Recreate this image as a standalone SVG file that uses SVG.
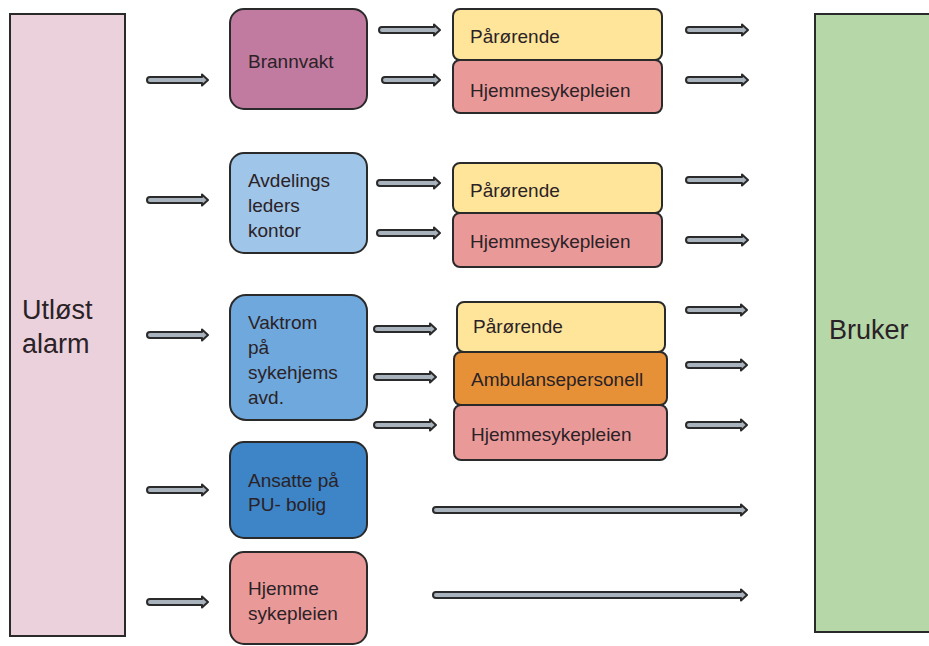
<svg xmlns="http://www.w3.org/2000/svg" width="929" height="646" viewBox="0 0 929 646">
<style>
.box{stroke:#2a2a2a;stroke-width:2}
.t{font-family:"Liberation Sans",Arial,sans-serif;font-size:19px;fill:#2a2226}
.big{font-family:"Liberation Sans",Arial,sans-serif;font-size:27px;fill:#2a2226}
.arr{fill:#a9b3bd;stroke:#2a2a2a;stroke-width:2;stroke-linejoin:round}
</style>
<rect width="929" height="646" fill="#ffffff"/>
<g id="utlost">
<rect class="box" x="10" y="14" width="115" height="622" fill="#ead1dc"/>
<text class="big" x="22" y="319">Utløst</text>
<text class="big" x="22" y="353">alarm</text>
</g>
<g id="bruker">
<rect class="box" x="815" y="14" width="130" height="618" fill="#b6d7a8"/>
<text class="big" x="829" y="339">Bruker</text>
</g>
<g id="brannvakt">
<rect class="box" x="230" y="9" width="137" height="100" rx="14" fill="#c27ba0"/>
<text class="t" x="248" y="68">Brannvakt</text>
</g>
<g id="avdelings">
<rect class="box" x="230" y="153" width="137" height="100" rx="14" fill="#9fc5e8"/>
<text class="t" x="248" y="187">Avdelings</text>
<text class="t" x="248" y="212">leders</text>
<text class="t" x="248" y="237">kontor</text>
</g>
<g id="vaktrom">
<rect class="box" x="230" y="295" width="137" height="125" rx="16" fill="#6fa8dc"/>
<text class="t" x="248" y="329">Vaktrom</text>
<text class="t" x="248" y="354">på</text>
<text class="t" x="248" y="379">sykehjems</text>
<text class="t" x="248" y="404">avd.</text>
</g>
<g id="ansatte">
<rect class="box" x="230" y="442" width="137" height="96" rx="14" fill="#3d85c6"/>
<text class="t" x="248" y="487">Ansatte på</text>
<text class="t" x="248" y="511">PU- bolig</text>
</g>
<g id="hjemme">
<rect class="box" x="230" y="552" width="137" height="92" rx="14" fill="#ea9999"/>
<text class="t" x="248" y="595">Hjemme</text>
<text class="t" x="248" y="620">sykepleien</text>
</g>
<g id="parorende1">
<rect class="box" x="453" y="9" width="209" height="51" rx="7" fill="#ffe599"/>
<text class="t" x="470" y="43">Pårørende</text>
</g>
<g id="hjemmesykepleien1">
<rect class="box" x="453" y="60" width="209" height="53" rx="7" fill="#ea9999"/>
<text class="t" x="470" y="97">Hjemmesykepleien</text>
</g>
<g id="parorende2">
<rect class="box" x="453" y="163" width="209" height="50" rx="7" fill="#ffe599"/>
<text class="t" x="470" y="197">Pårørende</text>
</g>
<g id="hjemmesykepleien2">
<rect class="box" x="453" y="213" width="209" height="54" rx="7" fill="#ea9999"/>
<text class="t" x="470" y="248">Hjemmesykepleien</text>
</g>
<g id="parorende3">
<rect class="box" x="457" y="302" width="208" height="50" rx="7" fill="#ffe599"/>
<text class="t" x="473" y="333">Pårørende</text>
</g>
<g id="ambulanse3">
<rect class="box" x="454" y="352" width="213" height="53" rx="7" fill="#e69138"/>
<text class="t" x="471" y="386">Ambulansepersonell</text>
</g>
<g id="hjemmesykepleien3">
<rect class="box" x="454" y="405" width="213" height="55" rx="7" fill="#ea9999"/>
<text class="t" x="471" y="441">Hjemmesykepleien</text>
</g>
<g id="connectors">
<path class="arr" d="M150,77 H202 V74.5 L208,80 L202,85.5 V83 H150 A3 3 0 0 1 150,77 Z"/>
<path class="arr" d="M150,197 H202 V194.5 L208,200 L202,205.5 V203 H150 A3 3 0 0 1 150,197 Z"/>
<path class="arr" d="M150,332 H202 V329.5 L208,335 L202,340.5 V338 H150 A3 3 0 0 1 150,332 Z"/>
<path class="arr" d="M150,487 H202 V484.5 L208,490 L202,495.5 V493 H150 A3 3 0 0 1 150,487 Z"/>
<path class="arr" d="M150,599 H202 V596.5 L208,602 L202,607.5 V605 H150 A3 3 0 0 1 150,599 Z"/>
<path class="arr" d="M382,27 H434 V24.5 L440,30 L434,35.5 V33 H382 A3 3 0 0 1 382,27 Z"/>
<path class="arr" d="M385,77 H434 V74.5 L440,80 L434,85.5 V83 H385 A3 3 0 0 1 385,77 Z"/>
<path class="arr" d="M380,180 H434 V177.5 L440,183 L434,188.5 V186 H380 A3 3 0 0 1 380,180 Z"/>
<path class="arr" d="M380,230 H434 V227.5 L440,233 L434,238.5 V236 H380 A3 3 0 0 1 380,230 Z"/>
<path class="arr" d="M377,326 H430 V323.5 L436,329 L430,334.5 V332 H377 A3 3 0 0 1 377,326 Z"/>
<path class="arr" d="M377,374 H430 V371.5 L436,377 L430,382.5 V380 H377 A3 3 0 0 1 377,374 Z"/>
<path class="arr" d="M377,422 H430 V419.5 L436,425 L430,430.5 V428 H377 A3 3 0 0 1 377,422 Z"/>
<path class="arr" d="M689,27 H742 V24.5 L748,30 L742,35.5 V33 H689 A3 3 0 0 1 689,27 Z"/>
<path class="arr" d="M689,77 H742 V74.5 L748,80 L742,85.5 V83 H689 A3 3 0 0 1 689,77 Z"/>
<path class="arr" d="M689,177 H742 V174.5 L748,180 L742,185.5 V183 H689 A3 3 0 0 1 689,177 Z"/>
<path class="arr" d="M689,237 H742 V234.5 L748,240 L742,245.5 V243 H689 A3 3 0 0 1 689,237 Z"/>
<path class="arr" d="M689,307 H741 V304.5 L747,310 L741,315.5 V313 H689 A3 3 0 0 1 689,307 Z"/>
<path class="arr" d="M689,362 H741 V359.5 L747,365 L741,370.5 V368 H689 A3 3 0 0 1 689,362 Z"/>
<path class="arr" d="M689,422 H741 V419.5 L747,425 L741,430.5 V428 H689 A3 3 0 0 1 689,422 Z"/>
<path class="arr" d="M436,507 H741 V504.5 L747,510 L741,515.5 V513 H436 A3 3 0 0 1 436,507 Z"/>
<path class="arr" d="M436,592 H741 V589.5 L747,595 L741,600.5 V598 H436 A3 3 0 0 1 436,592 Z"/>
</g>
</svg>
